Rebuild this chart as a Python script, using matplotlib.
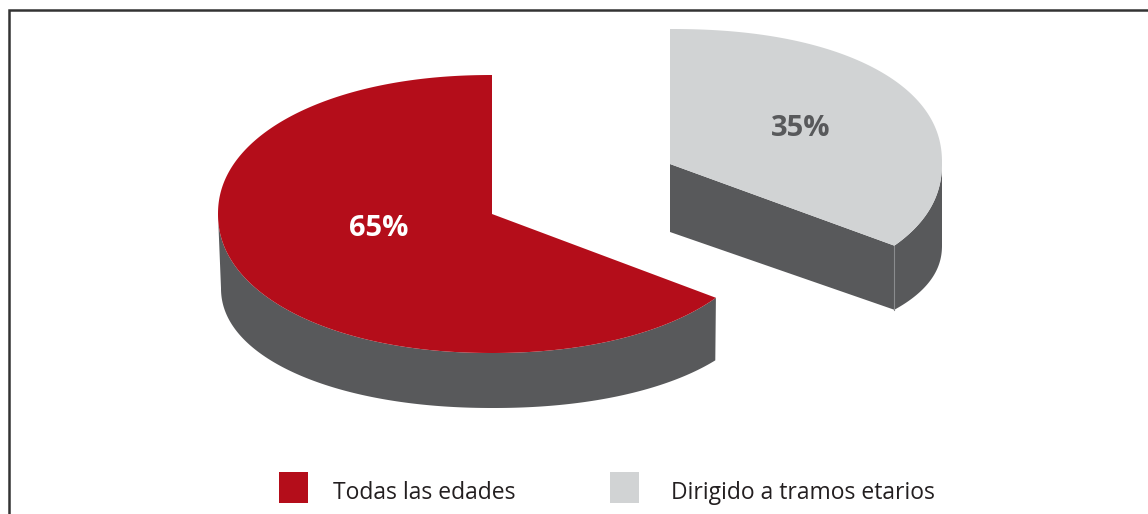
import numpy as np
import matplotlib
matplotlib.use('Agg')
import matplotlib.pyplot as plt

categorias = ['Todas las edades', 'Dirigido a tramos etarios']
porcentajes = [65, 35]
etiquetas = ['65%', '35%']

rojo = '#B40D1A'
gris = '#D1D3D4'
oscuro = '#58595B'
texto = '#231F20'


def arco(cx, cy, rx, ry, a0, a1, n=2.1):
    # elipse un poco cuadrada, como la del original
    t = np.radians(np.linspace(a0, a1, 300))
    c, s = np.cos(t), np.sin(t)
    return (cx + rx * np.sign(c) * np.abs(c) ** (2 / n),
            cy - ry * np.sign(s) * np.abs(s) ** (2 / n))


fig = plt.figure(figsize=(11.48, 5.14), dpi=100)
ax = fig.add_axes([0, 0, 1, 1])
ax.set_xlim(0, 1148)
ax.set_ylim(514, 0)
ax.axis('off')

# angulo donde se cortan las dos porciones (parten de las 12, sentido horario)
corte = 90 - porcentajes[1] / sum(porcentajes) * 360

# porcion roja: pared y tapa
x1, y1 = arco(492, 214, 274, 139, 180, 360 + corte)
x2, y2 = arco(493, 288, 272, 120, 360 + corte, 180)
ax.fill(np.r_[x1, x2], np.r_[y1, y2], color=oscuro, lw=0)
x, y = arco(492, 214, 274, 139, 90, 360 + corte)
ax.fill(np.r_[492, x], np.r_[214, y], color=rojo, lw=0)

# porcion gris: pared curva, pared del corte y tapa
x1, y1 = arco(670, 163, 272, 134, 0, corte, n=2.2)
x2, y2 = arco(670, 245, 272, 105, corte, 0, n=2.2)
ax.fill(np.r_[x1, x2], np.r_[y1, y2], color=oscuro, lw=0)
ax.fill([670, x1[-1], x2[0], 670], [164, y1[-1], y2[0], 232], color=oscuro, lw=0)
ax.plot([x1[-1], x2[0]], [y1[-1], y2[0]], color='#8A8C8E', lw=0.8)
x, y = arco(670, 163, 272, 134, 90, corte, n=2.2)
ax.fill(np.r_[670, x], np.r_[164, y], color=gris, lw=0)

ax.text(379, 229, etiquetas[0], color='white', fontsize=21, fontweight='bold',
        family='Open Sans', ha='center', va='center')
ax.text(801, 129, etiquetas[1], color=oscuro, fontsize=21, fontweight='bold',
        family='Open Sans', ha='center', va='center')

# marco
ax.plot([9, 9, 1148], [514, 10, 10], color='#333333', lw=1.8, solid_joinstyle='miter')

# leyenda
ax.fill([279, 308, 308, 279], [472, 472, 503, 503], color=rojo, lw=0)
ax.fill([610, 639, 639, 610], [472, 472, 503, 503], color=gris, lw=0)
ax.text(333, 499, categorias[0], color=texto, fontsize=16.5, family='Open Sans', va='baseline')
ax.text(671, 499, categorias[1], color=texto, fontsize=16.5, family='Open Sans', va='baseline')

fig.savefig('out.png', dpi=100)
